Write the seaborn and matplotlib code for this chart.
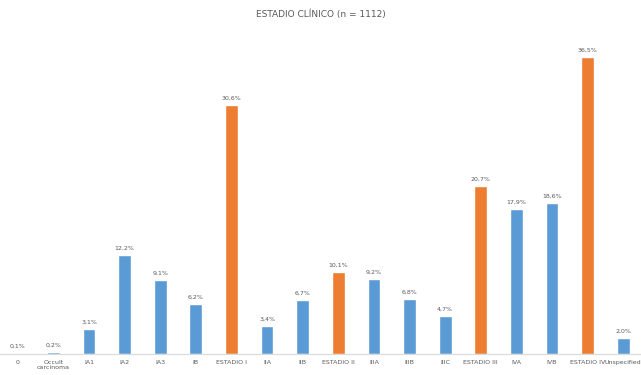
import matplotlib
matplotlib.use("Agg")
import matplotlib.pyplot as plt
import seaborn as sns
import pandas as pd

# datos del grafico
etapas = ["0", "Occult\ncarcinoma", "IA1", "IA2", "IA3", "IB", "ESTADIO I",
          "IIA", "IIB", "ESTADIO II", "IIIA", "IIIB", "IIIC", "ESTADIO III",
          "IVA", "IVB", "ESTADIO IV", "Unspecified"]
porcentaje = [0.1, 0.2, 3.1, 12.2, 9.1, 6.2, 30.6,
              3.4, 6.7, 10.1, 9.2, 6.8, 4.7, 20.7,
              17.9, 18.6, 36.5, 2.0]
tipo = ["sub", "sub", "sub", "sub", "sub", "sub", "total",
        "sub", "sub", "total", "sub", "sub", "sub", "total",
        "sub", "sub", "total", "sub"]

dados = pd.DataFrame({"etapa": etapas, "pct": porcentaje, "tipo": tipo})

sns.set_style("white")
fig = plt.figure(figsize=(6.41, 3.75), dpi=100)
ax = fig.add_axes([0.0, 0.056, 1.0, 0.867])

sns.barplot(data=dados, x="etapa", y="pct", hue="tipo",
            palette={"sub": "#5B9BD5", "total": "#ED7D31"}, saturation=1,
            width=0.36, dodge=False, legend=False, ax=ax)

for cont in ax.containers:
    ax.bar_label(cont, labels=[f"{v:.1f}%".replace(".", ",") for v in cont.datavalues],
                 fontsize=4.5, color="#595959", padding=3)

ax.set_ylim(0, 40)
ax.set_xlim(-0.5, len(etapas) - 0.5)
ax.set_yticks([])
ax.set_xlabel("")
ax.set_ylabel("")
ax.tick_params(axis="x", length=0, labelsize=4.5, labelcolor="#595959", pad=4)
for s in ["top", "left", "right"]:
    ax.spines[s].set_visible(False)
ax.spines["bottom"].set_color("#D9D9D9")
ax.spines["bottom"].set_linewidth(0.8)

fig.text(0.5, 0.962, "ESTADIO CLÍNICO (n = 1112)", ha="center", va="center",
         fontsize=6.5, color="#595959")

plt.savefig("out.png", dpi=100)
